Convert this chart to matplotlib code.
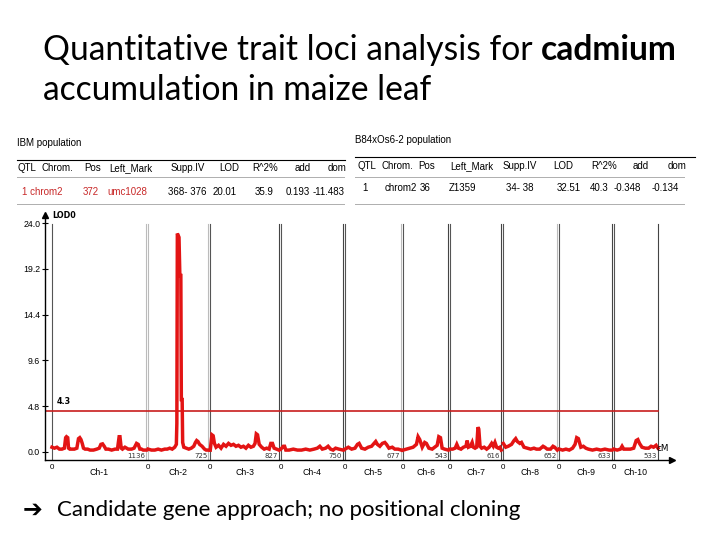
import matplotlib
matplotlib.use("Agg")
import matplotlib.pyplot as plt
from matplotlib.lines import Line2D
import numpy as np

# chromosome names and lengths (cM)
chroms = ["Ch-1", "Ch-2", "Ch-3", "Ch-4", "Ch-5", "Ch-6", "Ch-7", "Ch-8", "Ch-9", "Ch-10"]
chrom_len = [1136, 725, 827, 750, 677, 543, 616, 652, 633, 533]
gap = 24

# LOD profile per chromosome (position in cM, LOD)
pos = [
    [0, 30, 60, 90, 120, 150, 165, 175, 190, 200, 215, 240, 270, 300, 320, 335, 350, 365, 380, 400,
     430, 460, 500, 540, 570, 590, 610, 630, 650, 680, 720, 760, 790, 810, 820, 835, 850, 880, 920,
     960, 990, 1020, 1040, 1060, 1080, 1100, 1136],
    [0, 40, 80, 120, 160, 200, 230, 260, 290, 320, 340, 346, 352, 372, 382, 394, 400, 410, 416, 430,
     460, 490, 520, 550, 570, 585, 600, 620, 650, 680, 700, 725],
    [0, 20, 35, 50, 70, 100, 130, 160, 190, 220, 250, 280, 310, 340, 370, 400, 430, 460, 490, 520,
     540, 555, 570, 590, 620, 650, 680, 710, 730, 750, 770, 800, 827],
    [0, 30, 45, 60, 100, 150, 200, 250, 300, 350, 400, 440, 470, 500, 540, 570, 600, 630, 660, 700, 750],
    [0, 40, 80, 120, 150, 170, 200, 240, 280, 320, 350, 370, 390, 420, 450, 480, 500, 530, 570, 600,
     640, 677],
    [0, 40, 80, 120, 160, 180, 200, 230, 260, 280, 310, 350, 380, 410, 430, 450, 470, 500, 543],
    [0, 30, 60, 80, 100, 130, 160, 190, 205, 220, 245, 265, 280, 300, 320, 335, 345, 360, 380, 410,
     440, 470, 500, 520, 540, 560, 580, 600, 616],
    [0, 30, 60, 100, 130, 150, 170, 200, 220, 250, 290, 330, 370, 400, 440, 480, 500, 530, 570, 600,
     620, 652],
    [0, 40, 80, 120, 160, 190, 210, 230, 260, 290, 320, 350, 400, 450, 500, 550, 600, 633],
    [0, 40, 80, 100, 120, 160, 200, 240, 270, 290, 310, 340, 380, 420, 450, 480, 510, 533],
]
lod = [
    [0.5, 0.4, 0.5, 0.3, 0.3, 0.4, 1.5, 1.6, 1.5, 0.4, 0.3, 0.3, 0.3, 0.4, 1.4, 1.5, 1.3, 0.9, 0.4, 0.3,
     0.3, 0.2, 0.2, 0.3, 0.4, 0.8, 0.85, 0.6, 0.3, 0.3, 0.2, 0.3, 0.3, 1.6, 1.6, 0.4, 0.3, 0.5, 0.3,
     0.3, 0.4, 0.9, 0.8, 0.3, 0.3, 0.2, 0.2],
    [0.3, 0.2, 0.2, 0.3, 0.2, 0.3, 0.3, 0.4, 0.3, 0.5, 0.8, 3.0, 22.9, 22.5, 18.5, 18.5, 5.5, 5.5, 1.0, 0.5,
     0.4, 0.3, 0.4, 0.6, 1.0, 1.2, 1.1, 0.8, 0.6, 0.3, 0.2, 0.2],
    [0.2, 1.8, 1.7, 0.9, 0.5, 0.7, 0.4, 0.8, 0.6, 0.9, 0.7, 0.8, 0.6, 0.7, 0.5, 0.6, 0.4, 0.7, 0.5, 0.6,
     0.9, 1.9, 1.8, 0.8, 0.5, 0.3, 0.4, 0.3, 0.9, 0.9, 0.4, 0.3, 0.2],
    [0.3, 0.6, 0.6, 0.2, 0.2, 0.3, 0.2, 0.2, 0.3, 0.2, 0.3, 0.4, 0.6, 0.3, 0.4, 0.6, 0.3, 0.2, 0.4, 0.3, 0.2],
    [0.3, 0.5, 0.3, 0.4, 0.8, 0.9, 0.4, 0.3, 0.5, 0.6, 0.9, 1.1, 0.8, 0.6, 0.9, 1.0, 0.8, 0.4, 0.5, 0.3,
     0.3, 0.2],
    [0.2, 0.3, 0.4, 0.5, 0.8, 1.6, 1.3, 0.5, 1.0, 0.9, 0.4, 0.3, 0.5, 0.7, 1.6, 1.5, 0.4, 0.3, 0.2],
    [0.3, 0.3, 0.4, 0.8, 0.4, 0.3, 0.5, 0.6, 1.2, 0.5, 0.6, 1.0, 0.5, 0.4, 0.5, 2.6, 2.4, 0.6, 0.4, 0.5,
     0.3, 0.5, 0.9, 0.6, 1.0, 0.5, 0.4, 0.5, 0.2],
    [0.9, 0.5, 0.6, 0.8, 1.2, 1.4, 1.1, 0.9, 1.0, 0.5, 0.4, 0.3, 0.4, 0.3, 0.3, 0.6, 0.5, 0.3, 0.3, 0.6,
     0.5, 0.2],
    [0.3, 0.2, 0.3, 0.2, 0.4, 0.8, 1.5, 1.4, 0.5, 0.6, 0.4, 0.3, 0.2, 0.3, 0.2, 0.3, 0.2, 0.2],
    [0.3, 0.2, 0.3, 0.6, 0.3, 0.3, 0.3, 0.4, 1.2, 1.3, 0.9, 0.5, 0.4, 0.4, 0.6, 0.5, 0.7, 0.4],
]
threshold = 4.3
yticks = [0.0, 4.8, 9.6, 14.4, 19.2, 24.0]

# QTL tables
ibm_header = ["QTL", "Chrom.", "Pos", "Left_Mark", "Supp.IV", "LOD", "R^2%", "add", "dom"]
ibm_row = ["1 chrom2", "372", "umc1028", "368- 376", "20.01", "35.9", "0.193", "-11.483"]
b84_header = ["QTL", "Chrom.", "Pos", "Left_Mark", "Supp.IV", "LOD", "R^2%", "add", "dom"]
b84_row = ["1", "chrom2", "36", "Z1359", "34- 38", "32.51", "40.3", "-0.348", "-0.134"]

W, H = 720, 540
fig = plt.figure(figsize=(W / 100, H / 100), dpi=100)


def fx(x):
    return x / W


def fy(y):
    return 1 - y / H


def hline(x0, x1, y, **kw):
    fig.add_artist(Line2D([fx(x0), fx(x1)], [fy(y), fy(y)], transform=fig.transFigure, **kw))


# ---- slide title ----
tfont = ["Lato", "DejaVu Sans"]
tsize = 24.2
t1 = fig.text(fx(43), fy(60), "Quantitative trait loci analysis for ", fontsize=tsize,
              family=tfont, va="baseline")
fig.canvas.draw()
r = fig.canvas.get_renderer()
bb = t1.get_window_extent(r)
fig.text(bb.x1 / W, fy(60), "cadmium", fontsize=tsize, family=tfont, weight="bold", va="baseline")
fig.text(fx(43), fy(100), "accumulation in maize leaf", fontsize=tsize, family=tfont, va="baseline")

# ---- tables ----
sfont = ["Liberation Sans", "DejaVu Sans"]
fs = 7.0
fig.text(fx(17), fy(143), "IBM population", fontsize=fs, family=sfont, va="center")
fig.text(fx(355), fy(140), "B84xOs6-2 population", fontsize=fs, family=sfont, va="center")

hline(17, 345, 160, color="black", lw=0.8)
hline(355, 695, 157, color="black", lw=0.8)
for y in (177, 204):
    hline(17, 345, y, color="#444444", lw=0.6, ls=(0, (1.2, 1.2)))
    hline(355, 685, y, color="#444444", lw=0.6, ls=(0, (1.2, 1.2)))

ibm_hx = [17, 42, 84, 109, 171, 219, 252, 295, 328]
for x, s in zip(ibm_hx, ibm_header):
    fig.text(fx(x), fy(168), s, fontsize=fs, family=sfont, va="center")
ibm_rx = [22, 83, 107, 168, 213, 255, 286, 313]
for i, (x, s) in enumerate(zip(ibm_rx, ibm_row)):
    fig.text(fx(x), fy(192), s, fontsize=fs, family=sfont, va="center",
             color="#c82828" if i < 3 else "black")

b84_hx = [357, 382, 418, 450, 503, 553, 591, 633, 668]
for x, s in zip(b84_hx, b84_header):
    fig.text(fx(x), fy(166), s, fontsize=fs, family=sfont, va="center")
b84_rx = [362, 385, 420, 449, 506, 557, 590, 614, 652]
for x, s in zip(b84_rx, b84_row):
    fig.text(fx(x), fy(188), s, fontsize=fs, family=sfont, va="center")

# ---- LOD chart ----
ax = fig.add_axes([fx(45), fy(460), fx(672) - fx(45), fy(215) - fy(460)])
starts = np.concatenate([[0], np.cumsum(np.array(chrom_len) + gap)[:-1]])
boundary_col = ["#bbbbbb", "#bbbbbb", "#444444", "#444444", "#bbbbbb", "#444444", "#444444",
                "#bbbbbb", "#444444", "#444444"]

for i, (name, L, s0) in enumerate(zip(chroms, chrom_len, starts)):
    ax.axvline(s0, ymin=0, ymax=0.965, color="#555555" if i != 1 else "#bbbbbb", lw=0.8, zorder=1)
    ax.axvline(s0 + L, ymin=0, ymax=0.965, color=boundary_col[i], lw=0.8, zorder=1)
    ax.plot(s0 + np.array(pos[i]), lod[i], color="#e31414", lw=2.5, zorder=3, solid_joinstyle="miter")
    ax.text(s0 + L - 10, -0.45, str(L), fontsize=5, ha="right", va="center", color="#333333", zorder=2)
    ax.text(s0, -1.6, "0", fontsize=5.8, ha="center", va="center", family=sfont, clip_on=False)
    ax.text(s0 + L / 2, -2.2, name, fontsize=6.3, ha="center", va="center", family=sfont, clip_on=False)

end = starts[-1] + chrom_len[-1]
ax.plot([-84, end], [threshold, threshold], color="#c81e1e", lw=1.2, zorder=2)
ax.text(60, threshold + 0.55, "4.3", fontsize=5.8, weight="bold", ha="left", va="bottom")

ax.set_xlim(-84, 7477)
ax.set_ylim(-0.84, 24.84)
ax.set_yticks(yticks)
ax.set_yticklabels(["%.1f" % v for v in yticks], fontsize=6.3, family=sfont)
ax.tick_params(axis="y", direction="inout", length=5, width=0.8, pad=1)
ax.set_xticks([])
for sp in ("top", "right"):
    ax.spines[sp].set_visible(False)
ax.spines["left"].set_linewidth(1.0)
ax.spines["bottom"].set_linewidth(1.0)
ax.plot([0], [1], marker="^", ms=4, color="black", transform=ax.transAxes, clip_on=False)
ax.plot([1], [0], marker=">", ms=4, color="black", transform=ax.transAxes, clip_on=False)
ax.text(0.012, 1.0, "LOD0", transform=ax.transAxes, fontsize=5.8, weight="bold", va="center")
ax.text(0.985, 0.03, "cM", transform=ax.transAxes, fontsize=6.3, ha="center", va="bottom")

# ---- bottom note ----
fig.text(fx(23), fy(510), "\u2794", fontsize=17, weight="bold", family=["DejaVu Sans"], va="center")
fig.text(fx(57), fy(510), "Candidate gene approach; no positional cloning", fontsize=16,
         family=tfont, va="center")

fig.savefig("out.png", dpi=100)
